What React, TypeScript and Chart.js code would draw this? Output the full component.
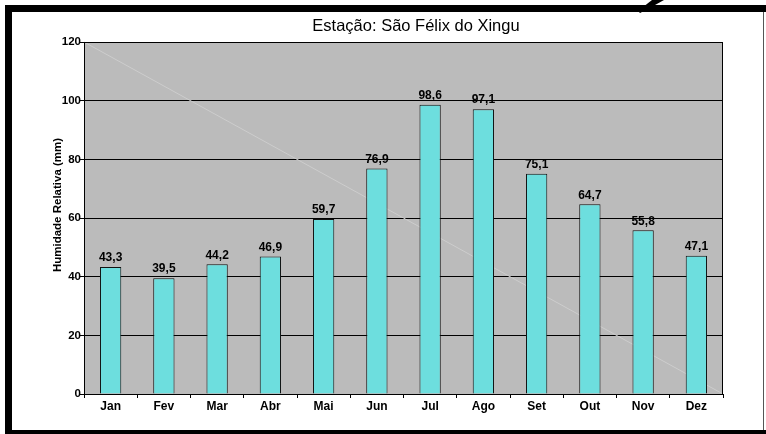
import React, { useEffect, useRef } from "react";
import { Chart, registerables } from "chart.js";
Chart.register(...registerables);

const months = ["Jan", "Fev", "Mar", "Abr", "Mai", "Jun", "Jul", "Ago", "Set", "Out", "Nov", "Dez"];
const humidity = [43.3, 39.5, 44.2, 46.9, 59.7, 76.9, 98.6, 97.1, 75.1, 64.7, 55.8, 47.1];
const yMin = 0;
const yMax = 120;
const yStep = 20;
const titleText = "Estação: São Félix do Xingu";
const yTitleText = "Humidade Relativa (mm)";

const FONT = '"Liberation Sans", Arial, sans-serif';

const decorPlugin = {
  id: "decor",
  beforeDraw(chart: any) {
    const { ctx, chartArea: a } = chart;
    ctx.save();
    ctx.fillStyle = "#bbbbbb";
    ctx.fillRect(a.left, a.top, a.right - a.left, a.bottom - a.top);
    ctx.restore();
  },
  beforeDatasetsDraw(chart: any) {
    const { ctx, chartArea: a } = chart;
    ctx.save();
    ctx.strokeStyle = "#cdcdcd";
    ctx.lineWidth = 1;
    ctx.beginPath();
    ctx.moveTo(a.left, a.top);
    ctx.lineTo(a.right, a.bottom);
    ctx.stroke();
    ctx.restore();
  },
  afterDatasetsDraw(chart: any) {
    const { ctx } = chart;
    const meta = chart.getDatasetMeta(0);
    ctx.save();
    ctx.fillStyle = "#000";
    ctx.font = `bold 12px ${FONT}`;
    ctx.textAlign = "center";
    ctx.textBaseline = "middle";
    meta.data.forEach((el: any, i: number) => {
      const v = chart.data.datasets[0].data[i] as number;
      ctx.fillText(v.toFixed(1).replace(".", ","), el.x, el.y - 9);
    });
    ctx.restore();
  },
  afterDraw(chart: any) {
    const { ctx, chartArea: a, width, height } = chart;
    ctx.save();
    // plot border
    ctx.strokeStyle = "#000";
    ctx.lineWidth = 1;
    ctx.strokeRect(a.left + 0.5, a.top + 0.5, a.right - a.left - 1, a.bottom - a.top);
    // title
    ctx.fillStyle = "#000";
    ctx.font = `16.5px ${FONT}`;
    ctx.textAlign = "center";
    ctx.textBaseline = "middle";
    ctx.fillText(titleText, 416, 26);
    // y title
    ctx.save();
    ctx.translate(58, 205);
    ctx.rotate(-Math.PI / 2);
    ctx.font = `bold 11.5px ${FONT}`;
    ctx.fillText(yTitleText, 0, 0);
    ctx.restore();
    // frame
    ctx.fillStyle = "#000";
    ctx.fillRect(5, 5, width - 5, 7);
    ctx.fillRect(5, 5, 7, height - 5);
    ctx.fillRect(5, 430, width - 5, 4);
    ctx.fillStyle = "#555";
    ctx.fillRect(763, 12, 1, 418);
    // slash at top right
    ctx.fillStyle = "#000";
    ctx.beginPath();
    ctx.moveTo(652, 0);
    ctx.lineTo(664, 0);
    ctx.lineTo(646, 10);
    ctx.lineTo(640, 13);
    ctx.lineTo(638, 11);
    ctx.closePath();
    ctx.fill();
    ctx.restore();
  },
};

export default function App() {
  const ref = useRef<HTMLCanvasElement>(null);
  useEffect(() => {
    if (!ref.current) return;
    const chart = new Chart(ref.current, {
      type: "bar",
      data: {
        labels: months,
        datasets: [
          {
            data: humidity,
            backgroundColor: "#6ddede",
            borderColor: "#111",
            borderWidth: 1,
            barPercentage: 0.8,
            categoryPercentage: 0.5,
          },
        ],
      },
      options: {
        animation: false,
        responsive: true,
        maintainAspectRatio: false,
        layout: { padding: { left: 0, top: 42, right: 43, bottom: 0 } },
        plugins: {
          legend: { display: false },
          title: { display: false },
          tooltip: { enabled: false },
        },
        scales: {
          x: {
            afterFit: (s: any) => {
              s.height = 40;
            },
            grid: {
              display: true,
              drawOnChartArea: false,
              drawTicks: true,
              tickLength: 4,
              color: "#000",
              offset: true,
            },
            border: { display: true, color: "#000" },
            ticks: {
              color: "#000",
              font: { family: FONT, size: 12, weight: "bold" },
              padding: 1,
            },
          },
          y: {
            min: yMin,
            max: yMax,
            afterFit: (s: any) => {
              s.width = 84;
            },
            grid: {
              color: "#000",
              drawTicks: true,
              tickLength: 5,
            },
            border: { display: true, color: "#000" },
            ticks: {
              stepSize: yStep,
              color: "#000",
              font: { family: FONT, size: 11.5, weight: "bold" },
              padding: -2,
            },
          },
        },
      },
      plugins: [decorPlugin],
    });
    return () => chart.destroy();
  }, []);
  return (
    <div style={{ position: "absolute", left: 0, top: 0, width: 766, height: 434, background: "#fff" }}>
      <canvas ref={ref} />
    </div>
  );
}
